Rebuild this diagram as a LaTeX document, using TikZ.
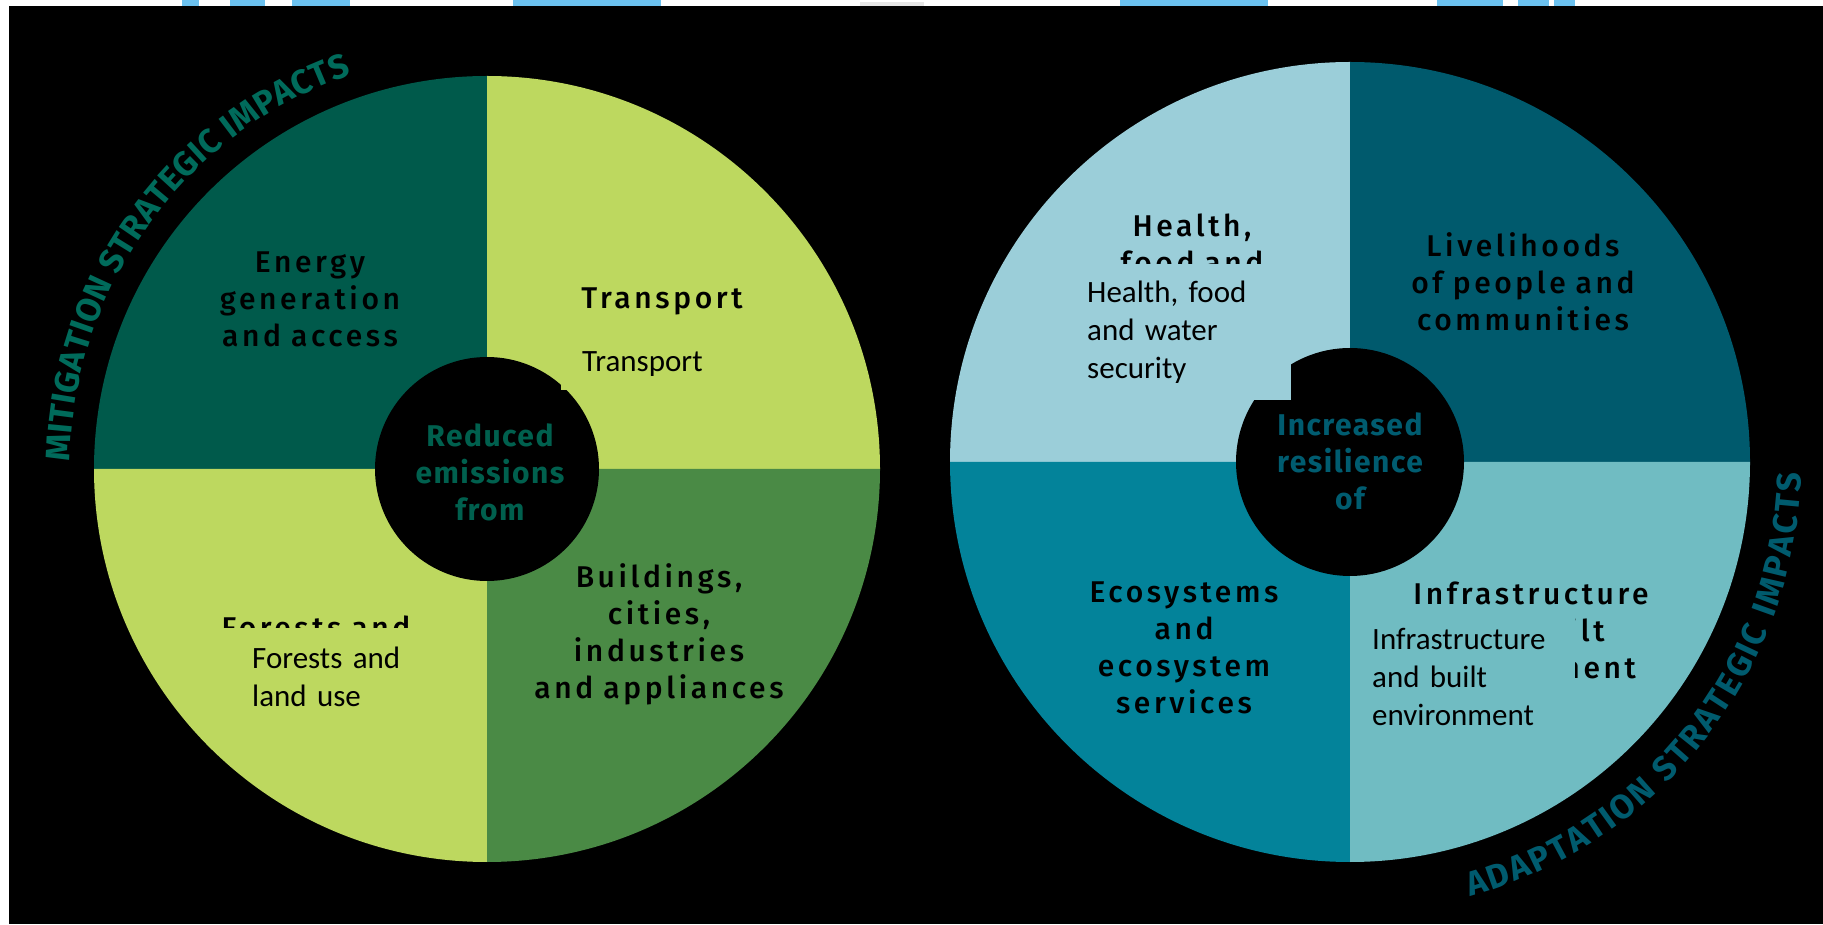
\documentclass[tikz,border=0pt]{standalone}
\usepackage{fontspec}
\setmainfont{Carlito}
\newfontfamily\labfont[LetterSpace=12,WordSpace=2.2]{Fira Sans Medium}
\newfontfamily\hubfont[LetterSpace=5]{Fira Sans}
\newfontfamily\arcfont{Fira Sans}
\usetikzlibrary{decorations.text}
\definecolor{dgreen}{HTML}{005A4B}
\definecolor{lime}{HTML}{BDD85F}
\definecolor{mgreen}{HTML}{4A8A45}
\definecolor{lblue}{HTML}{9BCED9}
\definecolor{dteal}{HTML}{005A6D}
\definecolor{mteal}{HTML}{03839A}
\definecolor{pteal}{HTML}{70BCC2}
\definecolor{redtxt}{HTML}{00604E}
\definecolor{mittxt}{HTML}{006B5B}
\definecolor{inctxt}{HTML}{005C70}
\definecolor{adatxt}{HTML}{005B6E}
\definecolor{skyblob}{HTML}{6CC2F0}
\definecolor{grayblob}{HTML}{E6E6E6}
\begin{document}
\begin{tikzpicture}[x=1pt,y=1pt,
  lab/.style={inner sep=0pt, anchor=base, text width=340pt, align=center,
    font=\labfont\fontsize{30}{37}\selectfont},
  hub/.style={inner sep=0pt, anchor=base, text width=220pt, align=center,
    font=\hubfont\bfseries\fontsize{30}{37}\selectfont},
  plain/.style={inner sep=0pt, anchor=base west, text width=260pt, align=left,
    font=\fontsize{31}{38}\selectfont},
]
\useasboundingbox (0,0) rectangle (1823,924);
\fill[white] (0,0) rectangle (1823,924);
\fill[black] (9,0) rectangle (1823,918);
% top strip fragments
\fill[skyblob] (182,918) rectangle (199,924);
\fill[skyblob] (230,918) rectangle (265,924);
\fill[skyblob] (292,918) rectangle (350,924);
\fill[skyblob] (513,918) rectangle (661,924);
\fill[grayblob] (860,918) rectangle (924,922);
\fill[skyblob] (1120,918) rectangle (1268,924);
\fill[skyblob] (1437,918) rectangle (1503,924);
\fill[skyblob] (1518,918) rectangle (1549,924);
\fill[skyblob] (1554,918) rectangle (1575,924);

% ---------- left wheel ----------
\coordinate (L) at (487,455);
\fill[dgreen] (L) -- ++(90:393) arc[start angle=90, end angle=180, radius=393] -- cycle;
\fill[lime] (L) -- ++(0:393) arc[start angle=0, end angle=90, radius=393] -- cycle;
\fill[lime] (L) -- ++(180:393) arc[start angle=180, end angle=270, radius=393] -- cycle;
\fill[mgreen] (L) -- ++(270:393) arc[start angle=270, end angle=360, radius=393] -- cycle;
\node[circle, fill=black, minimum size=224pt, inner sep=0pt] (Lhub) at (L) {};

\node[lab] (energy) at (310,651) {Energy\\generation\\and access};
\node[lab] (transportB) at (662,615) {Transport};
\node[lab] (buildings) at (659,336) {Buildings,\\cities,\\industries\\and appliances};
\node[lab] (forestsB) at (316,285) {Forests and\\land use};
\node[hub, text=redtxt] (reduced) at (490,477) {Reduced\\emissions\\from};

% overlapping plain text boxes
\fill[lime] (561,534) rectangle (725,597);
\fill[lime] (205,199) rectangle (430,296);
\node[plain] (transportP) at (582,552) {Transport};
\node[plain] (forestsP) at (252,255) {Forests and\\land use};

\path[decorate, decoration={text along path, text align=fit to path,
  text={|\arcfont\bfseries\fontsize{34}{34}\selectfont\color{mittxt}|MITIGATION STRATEGIC IMPACTS}}]
  (L) ++(179:417) arc[start angle=179, end angle=109, radius=417];

% ---------- right wheel ----------
\coordinate (R) at (1350,462);
\fill[lblue] (R) -- ++(90:400) arc[start angle=90, end angle=180, radius=400] -- cycle;
\fill[dteal] (R) -- ++(0:400) arc[start angle=0, end angle=90, radius=400] -- cycle;
\fill[mteal] (R) -- ++(180:400) arc[start angle=180, end angle=270, radius=400] -- cycle;
\fill[pteal] (R) -- ++(270:400) arc[start angle=270, end angle=360, radius=400] -- cycle;
\node[circle, fill=black, minimum size=228pt, inner sep=0pt] (Rhub) at (R) {};

\node[lab] (healthB) at (1192,687) {Health,\\food and\\water\\security};
\node[lab] (livelihoods) at (1523,667) {Livelihoods\\of people and\\communities};
\node[lab] (ecosystems) at (1184,321) {Ecosystems\\and\\ecosystem\\services};
\node[lab] (infraB) at (1531,319) {Infrastructure\\and built\\environment};
\node[hub, text=inctxt] (increased) at (1350,488) {Increased\\resilience\\of};

\fill[lblue] (1060,524) rectangle (1291,660);
\fill[pteal] (1356,176) rectangle (1575,312);
\node[plain] (healthP) at (1087,621) {Health, food\\and water\\security};
\node[plain] (infraP) at (1372,274) {Infrastructure\\and built\\environment};

\path[decorate, decoration={text along path, text align=fit to path,
  text={|\arcfont\bfseries\fontsize{34}{34}\selectfont\color{adatxt}|ADAPTATION STRATEGIC IMPACTS}}]
  (R) ++(-74.5:451) arc[start angle=-74.5, end angle=-1.5, radius=451];
\end{tikzpicture}
\end{document}
